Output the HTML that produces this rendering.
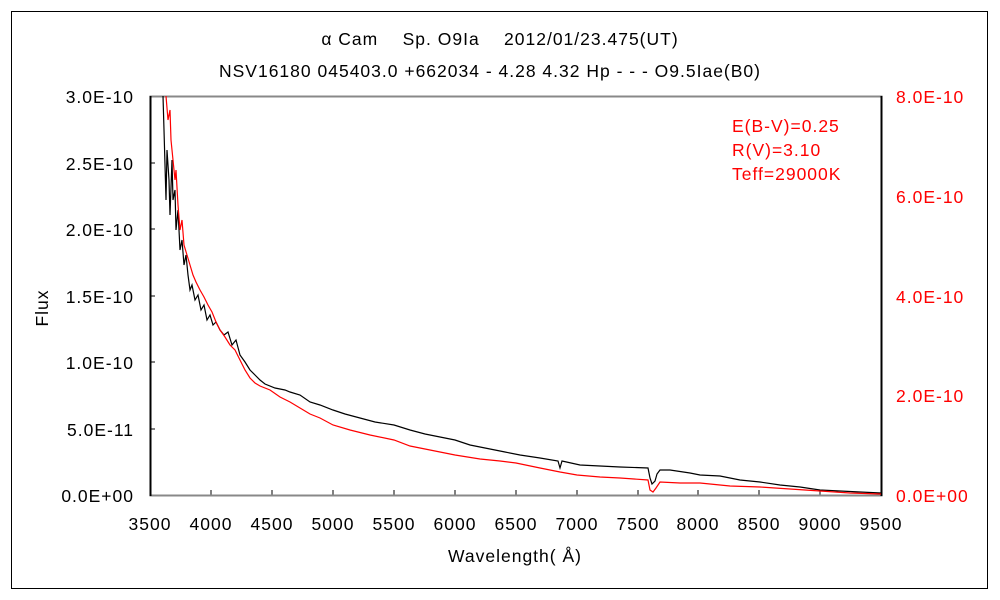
<!DOCTYPE html>
<html><head><meta charset="utf-8"><style>
body{margin:0;background:#fff}
svg{display:block}
text{font-family:"Liberation Sans","Noto Sans CJK JP",sans-serif;font-size:17.5px;letter-spacing:1px}
</style></head><body>
<svg width="1000" height="600" xmlns="http://www.w3.org/2000/svg">
<rect x="0" y="0" width="1000" height="600" fill="#fff"/>
<rect x="11.5" y="11.5" width="976" height="577" fill="none" stroke="#000" stroke-width="1"/>
<text x="500" y="45" text-anchor="middle">α Cam　 Sp. O9Ia　 2012/01/23.475(UT)</text>
<text x="490" y="77" text-anchor="middle">NSV16180 045403.0 +662034 - 4.28 4.32 Hp - - - O9.5Iae(B0)</text>
<g stroke="#000" stroke-width="1">
<line x1="150" y1="429" x2="155" y2="429"/><line x1="150" y1="362" x2="155" y2="362"/><line x1="150" y1="296" x2="155" y2="296"/><line x1="150" y1="229" x2="155" y2="229"/><line x1="150" y1="163" x2="155" y2="163"/>
<line x1="211" y1="495" x2="211" y2="490"/><line x1="272" y1="495" x2="272" y2="490"/><line x1="333" y1="495" x2="333" y2="490"/><line x1="394" y1="495" x2="394" y2="490"/><line x1="455" y1="495" x2="455" y2="490"/><line x1="516" y1="495" x2="516" y2="490"/><line x1="577" y1="495" x2="577" y2="490"/><line x1="638" y1="495" x2="638" y2="490"/><line x1="698" y1="495" x2="698" y2="490"/><line x1="759" y1="495" x2="759" y2="490"/><line x1="820" y1="495" x2="820" y2="490"/>
</g>
<rect x="150.5" y="96.5" width="731" height="399" fill="none" stroke="#888" stroke-width="2"/>
<line x1="150.5" y1="96" x2="150.5" y2="496" stroke="#000" stroke-width="2"/>
<line x1="881.5" y1="96" x2="881.5" y2="496" stroke="#000" stroke-width="2"/>
<g text-anchor="end" fill="#000">
<text x="134" y="103">3.0E-10</text><text x="134" y="170">2.5E-10</text><text x="134" y="236">2.0E-10</text><text x="134" y="303">1.5E-10</text><text x="134" y="369">1.0E-10</text><text x="134" y="436">5.0E-11</text><text x="134" y="502">0.0E+00</text>
</g>
<g fill="#f00">
<text x="896" y="103">8.0E-10</text><text x="896" y="203">6.0E-10</text><text x="896" y="303">4.0E-10</text><text x="896" y="402">2.0E-10</text><text x="896" y="502">0.0E+00</text>
<text x="732" y="132">E(B-V)=0.25</text><text x="732" y="156">R(V)=3.10</text><text x="732" y="180">Teff=29000K</text>
</g>
<g text-anchor="middle">
<text x="150" y="530">3500</text><text x="211" y="530">4000</text><text x="272" y="530">4500</text><text x="333" y="530">5000</text><text x="394" y="530">5500</text><text x="455" y="530">6000</text><text x="516" y="530">6500</text><text x="577" y="530">7000</text><text x="638" y="530">7500</text><text x="698" y="530">8000</text><text x="759" y="530">8500</text><text x="820" y="530">9000</text><text x="881" y="530">9500</text>
<text x="515" y="562">Wavelength( Å)</text>
</g>
<text x="48" y="308" text-anchor="middle" transform="rotate(-90 48 308)">Flux</text>
<polyline fill="none" stroke="#000" stroke-width="1.2" points="163,96 164,130 166,200 167,150 169,180 170,215 172,160 173,200 175,190 176,230 178,210 180,250 182,240 184,265 186,255 188,275 190,290 192,285 195,300 198,295 201,310 204,305 207,320 210,315 213,325 216,322 220,330 224,335 228,332 232,345 236,340 240,355 245,362 250,370 255,375 260,380 265,384 275,388 285,390 290,392 300,395 310,402 320,405 333,410 345,414 360,418 375,422 394,425 410,430 425,434 440,437 455,440 470,445 490,449 505,452 520,455 540,458 558,461 560,468 562,461 580,465 600,466 620,467 648,468 650,478 652,484 655,481 657,474 660,470 670,470 690,473 700,475 720,476 740,480 760,482 780,485 800,487 820,490 840,491 860,492 881,493"/>
<polyline fill="none" stroke="#f00" stroke-width="1.2" points="166,96 168,120 170,110 171,140 173,160 175,180 176,170 178,205 180,230 182,220 184,245 187,255 190,265 193,275 196,282 200,290 204,297 208,305 212,312 216,322 220,330 225,337 230,345 235,350 240,360 245,370 250,378 255,383 260,386 270,390 280,397 290,402 300,408 310,414 320,418 333,425 350,430 370,435 394,440 410,446 430,450 455,455 480,459 500,461 516,463 540,468 560,472 577,475 600,477 620,478 648,480 650,490 653,492 656,488 660,482 680,483 700,483 730,486 760,487 790,489 820,491 850,493 881,494"/>
</svg>
</body></html>
